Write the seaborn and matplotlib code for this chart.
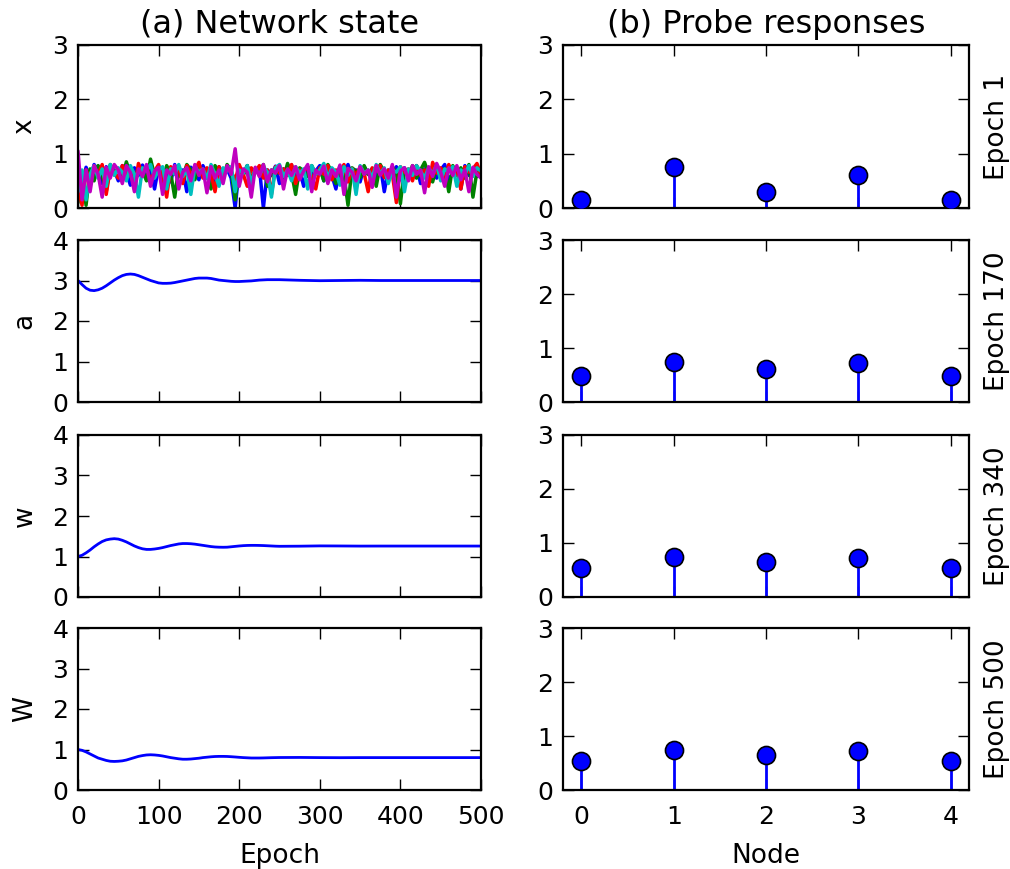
import numpy as np
import pandas as pd
import matplotlib
matplotlib.use("Agg")
import matplotlib.pyplot as plt
import seaborn as sns

# ---------------- data ----------------
x_epochs = list(range(0, 501, 5))

x_blue = [0.60, 0.40, 0.75, 0.55, 0.80, 0.68, 0.45, 0.76, 0.62, 0.70,
          0.50, 0.78, 0.66, 0.42, 0.74, 0.60, 0.79, 0.55, 0.70, 0.35,
          0.76, 0.64, 0.72, 0.48, 0.80, 0.58, 0.70, 0.30, 0.75, 0.66,
          0.52, 0.78, 0.62, 0.70, 0.44, 0.76, 0.60, 0.72, 0.55, 0.00,
          0.74, 0.62, 0.78, 0.50, 0.68, 0.75, 0.00, 0.70, 0.60, 0.77,
          0.45, 0.72, 0.64, 0.79, 0.55, 0.70, 0.40, 0.76, 0.62, 0.68,
          0.78, 0.50, 0.72, 0.60, 0.35, 0.75, 0.66, 0.80, 0.58, 0.70,
          0.48, 0.76, 0.62, 0.72, 0.55, 0.79, 0.30, 0.70, 0.64, 0.76,
          0.52, 0.74, 0.60, 0.68, 0.78, 0.45, 0.72, 0.62, 0.76, 0.55,
          0.70, 0.80, 0.50, 0.66, 0.74, 0.35, 0.78, 0.60, 0.72, 0.58,
          0.65]
x_green = [0.10, 0.65, 0.05, 0.72, 0.50, 0.78, 0.60, 0.30, 0.80, 0.66,
           0.70, 0.55, 0.85, 0.62, 0.40, 0.74, 0.68, 0.50, 0.90, 0.60,
           0.72, 0.45, 0.78, 0.64, 0.20, 0.75, 0.58, 0.80, 0.70, 0.52,
           0.76, 0.62, 0.72, 0.35, 0.78, 0.66, 0.55, 0.80, 0.68, 0.15,
           0.74, 0.60, 0.78, 0.50, 0.72, 0.66, 0.80, 0.40, 0.70, 0.62,
           0.76, 0.55, 0.82, 0.64, 0.25, 0.74, 0.68, 0.58, 0.78, 0.62,
           0.72, 0.50, 0.80, 0.66, 0.45, 0.76, 0.60, 0.05, 0.74, 0.68,
           0.56, 0.78, 0.62, 0.72, 0.40, 0.80, 0.66, 0.58, 0.76, 0.64,
           0.08, 0.72, 0.60, 0.78, 0.55, 0.70, 0.84, 0.62, 0.48, 0.76,
           0.66, 0.72, 0.30, 0.78, 0.60, 0.74, 0.55, 0.80, 0.20, 0.68,
           0.70]
x_red = [0.40, 0.05, 0.70, 0.50, 0.76, 0.62, 0.80, 0.25, 0.72, 0.66,
         0.55, 0.78, 0.60, 0.70, 0.35, 0.82, 0.64, 0.74, 0.50, 0.68,
         0.80, 0.58, 0.20, 0.76, 0.66, 0.72, 0.45, 0.78, 0.62, 0.70,
         0.84, 0.55, 0.74, 0.64, 0.30, 0.76, 0.60, 0.72, 0.68, 0.50,
         0.80, 0.62, 0.40, 0.74, 0.66, 0.78, 0.55, 0.70, 0.25, 0.76,
         0.64, 0.72, 0.60, 0.80, 0.45, 0.70, 0.66, 0.76, 0.58, 0.35,
         0.74, 0.62, 0.78, 0.52, 0.70, 0.66, 0.80, 0.48, 0.72, 0.60,
         0.76, 0.64, 0.30, 0.74, 0.68, 0.78, 0.56, 0.70, 0.62, 0.10,
         0.76, 0.66, 0.72, 0.50, 0.78, 0.60, 0.70, 0.40, 0.84, 0.64,
         0.74, 0.56, 0.80, 0.62, 0.70, 0.35, 0.76, 0.66, 0.72, 0.82,
         0.60]
x_cyan = [0.30, 0.70, 0.15, 0.62, 0.78, 0.55, 0.72, 0.40, 0.80, 0.60,
          0.74, 0.66, 0.50, 0.78, 0.62, 0.20, 0.74, 0.68, 0.80, 0.55,
          0.70, 0.76, 0.35, 0.72, 0.62, 0.80, 0.58, 0.70, 0.25, 0.76,
          0.66, 0.72, 0.54, 0.80, 0.62, 0.40, 0.74, 0.68, 0.76, 0.30,
          0.70, 0.64, 0.78, 0.45, 0.72, 0.60, 0.76, 0.66, 0.20, 0.74,
          0.80, 0.58, 0.70, 0.50, 0.76, 0.64, 0.72, 0.35, 0.78, 0.62,
          0.70, 0.82, 0.55, 0.74, 0.66, 0.42, 0.76, 0.60, 0.72, 0.25,
          0.78, 0.64, 0.70, 0.56, 0.80, 0.62, 0.74, 0.45, 0.70, 0.66,
          0.76, 0.30, 0.72, 0.60, 0.78, 0.68, 0.55, 0.74, 0.62, 0.80,
          0.50, 0.72, 0.66, 0.76, 0.40, 0.70, 0.62, 0.78, 0.58, 0.74,
          0.68]
x_magenta = [1.05, 0.15, 0.70, 0.30, 0.78, 0.62, 0.20, 0.75, 0.55, 0.80,
             0.70, 0.45, 0.78, 0.65, 0.30, 0.72, 0.58, 0.80, 0.40, 0.68,
             0.75, 0.25, 0.70, 0.62, 0.78, 0.35, 0.66, 0.74, 0.50, 0.80,
             0.60, 0.72, 0.28, 0.76, 0.55, 0.70, 0.45, 0.78, 0.62, 1.09,
             0.40, 0.72, 0.66, 0.20, 0.75, 0.58, 0.80, 0.48, 0.70, 0.64,
             0.78, 0.35, 0.72, 0.60, 0.76, 0.52, 0.68, 0.80, 0.30, 0.70,
             0.62, 0.77, 0.45, 0.70, 0.58, 0.79, 0.25, 0.73, 0.66, 0.50,
             0.76, 0.62, 0.70, 0.38, 0.78, 0.60, 0.72, 0.55, 0.80, 0.20,
             0.68, 0.74, 0.50, 0.78, 0.62, 0.70, 0.28, 0.76, 0.58, 0.82,
             0.66, 0.40, 0.74, 0.60, 0.78, 0.52, 0.70, 0.30, 0.75, 0.62,
             0.55]

curve_epochs = [0, 5, 10, 15, 20, 25, 30, 35, 40, 45, 50, 55, 60, 65, 70, 75, 80, 85, 90, 95,
                100, 105, 110, 115, 120, 125, 130, 135, 140, 145, 150, 155, 160, 165, 170, 175,
                180, 185, 190, 195, 200, 205, 210, 215, 220, 225, 230, 235, 240, 245, 250,
                275, 300, 325, 350, 375, 400, 425, 450, 475, 500]
a_vals = [3.00, 2.90, 2.81, 2.76, 2.75, 2.77, 2.81, 2.87, 2.94, 3.01, 3.07, 3.12, 3.15, 3.16,
          3.15, 3.12, 3.08, 3.04, 3.00, 2.97, 2.94, 2.93, 2.93, 2.935, 2.95, 2.97, 2.99, 3.01,
          3.03, 3.05, 3.06, 3.06, 3.06, 3.05, 3.03, 3.01, 3.00, 2.99, 2.98, 2.975, 2.975, 2.98,
          2.985, 2.99, 3.00, 3.01, 3.015, 3.02, 3.02, 3.02, 3.02,
          3.005, 2.995, 3.00, 3.005, 3.00, 3.00, 3.00, 3.00, 3.00, 3.00]
w_vals = [1.00, 1.03, 1.09, 1.16, 1.24, 1.31, 1.37, 1.41, 1.43, 1.44, 1.43, 1.40, 1.36, 1.31,
          1.26, 1.22, 1.19, 1.175, 1.175, 1.185, 1.20, 1.22, 1.245, 1.27, 1.29, 1.31, 1.32, 1.32,
          1.315, 1.305, 1.29, 1.275, 1.26, 1.245, 1.235, 1.23, 1.228, 1.23, 1.24, 1.25, 1.26,
          1.268, 1.273, 1.275, 1.275, 1.273, 1.27, 1.265, 1.26, 1.255, 1.252,
          1.255, 1.262, 1.26, 1.257, 1.258, 1.258, 1.258, 1.258, 1.258, 1.258]
W_vals = [1.00, 0.98, 0.94, 0.89, 0.84, 0.79, 0.76, 0.73, 0.71, 0.705, 0.71, 0.72, 0.74, 0.77,
          0.80, 0.83, 0.85, 0.865, 0.87, 0.865, 0.855, 0.84, 0.82, 0.80, 0.785, 0.77, 0.76, 0.76,
          0.765, 0.775, 0.785, 0.80, 0.81, 0.82, 0.827, 0.83, 0.83, 0.828, 0.822, 0.815, 0.807,
          0.80, 0.795, 0.79, 0.79, 0.79, 0.792, 0.795, 0.798, 0.80, 0.802,
          0.804, 0.80, 0.798, 0.80, 0.80, 0.80, 0.80, 0.80, 0.80, 0.80]

nodes = [0, 1, 2, 3, 4]
probe_epochs = ["Epoch 1", "Epoch 170", "Epoch 340", "Epoch 500"]
probe_1 = [0.14, 0.76, 0.30, 0.61, 0.14]
probe_170 = [0.49, 0.74, 0.62, 0.715, 0.49]
probe_340 = [0.53, 0.74, 0.64, 0.72, 0.53]
probe_500 = [0.53, 0.74, 0.64, 0.72, 0.53]

# ---------------- style ----------------
sns.set_style("ticks")
plt.rcParams.update({
    "font.family": ["DejaVu Sans"],
    "text.color": "black", "axes.labelcolor": "black",
    "xtick.direction": "in", "ytick.direction": "in",
    "xtick.top": True, "ytick.right": True,
    "xtick.major.size": 8, "ytick.major.size": 8,
    "xtick.major.width": 1.0, "ytick.major.width": 1.0,
    "xtick.major.pad": 11, "ytick.major.pad": 7,
    "axes.linewidth": 1.6, "axes.edgecolor": "black",
    "xtick.color": "black", "ytick.color": "black",
    "xtick.labelsize": 18, "ytick.labelsize": 18,
    "axes.labelsize": 19, "axes.titlesize": 23,
})

fig = plt.figure(figsize=(10.10, 8.69), dpi=100)
W_px, H_px = 1010, 869
rows_px = [(45, 208), (240, 402), (435, 597), (628, 790)]
left_px = (78, 481)
right_px = (563, 969)

def mk(xr, yr):
    return fig.add_axes([xr[0] / W_px, 1 - yr[1] / H_px,
                         (xr[1] - xr[0]) / W_px, (yr[1] - yr[0]) / H_px])

left_axes = [mk(left_px, r) for r in rows_px]
right_axes = [mk(right_px, r) for r in rows_px]

# left column
ax = left_axes[0]
for vals, col in zip([x_blue, x_green, x_red, x_cyan, x_magenta],
                     ["#0000ff", "#008000", "#ff0000", "#00bfbf", "#bf00bf"]):
    sns.lineplot(x=x_epochs, y=vals, ax=ax, color=col, linewidth=2.5, estimator=None)
ax.set_ylim(0, 3)
ax.set_yticks([0, 1, 2, 3])
ax.set_ylabel("x")
ax.set_title("(a) Network state", pad=9)

for ax, vals, lab in zip(left_axes[1:], [a_vals, w_vals, W_vals], ["a", "w", "W"]):
    sns.lineplot(x=curve_epochs, y=vals, ax=ax, color="#0000ff", linewidth=2.0, estimator=None)
    ax.set_ylim(0, 4)
    ax.set_yticks([0, 1, 2, 3, 4])
    ax.set_ylabel(lab)

for i, ax in enumerate(left_axes):
    ax.set_xlim(0, 500)
    ax.set_xticks([0, 100, 200, 300, 400, 500])
    ax.yaxis.set_label_coords(-0.10, 0.5)
    if i < 3:
        ax.set_xticklabels([])
    else:
        ax.set_xlabel("Epoch", labelpad=10)
    for s in ax.spines.values():
        s.set_visible(True)

# right column
for ax, vals, lab in zip(right_axes, [probe_1, probe_170, probe_340, probe_500], probe_epochs):
    ml, sl, bl = ax.stem(nodes, vals, linefmt="b-", markerfmt="bo", basefmt="r-")
    plt.setp(sl, linewidth=2.0, color="#0000ff")
    plt.setp(ml, markersize=13, markerfacecolor="#0000ff", markeredgecolor="black",
             markeredgewidth=1.2, zorder=3)
    plt.setp(bl, linewidth=1.0, color="#ff0000")
    ax.set_xlim(-0.2, 4.2)
    ax.set_ylim(0, 3)
    ax.set_yticks([0, 1, 2, 3])
    ax.set_xticks(nodes)
    ax.yaxis.set_label_position("right")
    ax.set_ylabel(lab, labelpad=11)
    for s in ax.spines.values():
        s.set_visible(True)
for ax in right_axes[:3]:
    ax.set_xticklabels([])
right_axes[3].set_xlabel("Node", labelpad=10)
right_axes[0].set_title("(b) Probe responses", pad=9)

fig.savefig("out.png", dpi=100)
